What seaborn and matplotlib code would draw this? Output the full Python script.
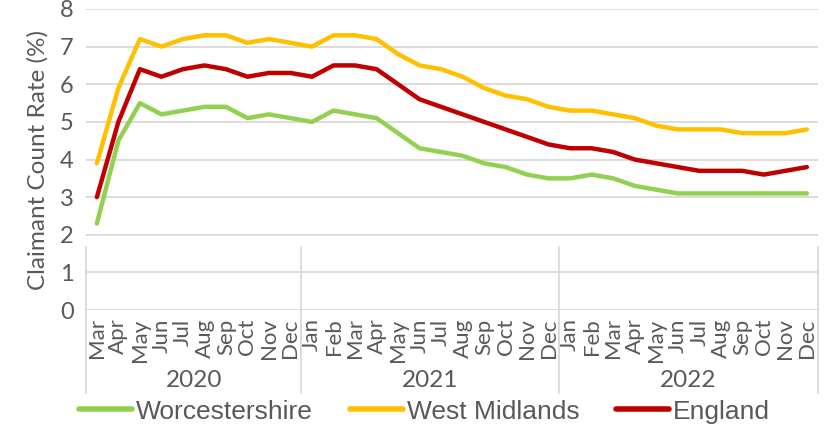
import numpy as np
import pandas as pd
import seaborn as sns
import matplotlib.pyplot as plt
from matplotlib.transforms import blended_transform_factory

months = ["Mar", "Apr", "May", "Jun", "Jul", "Aug", "Sep", "Oct", "Nov", "Dec",
          "Jan", "Feb", "Mar", "Apr", "May", "Jun", "Jul", "Aug", "Sep", "Oct", "Nov", "Dec",
          "Jan", "Feb", "Mar", "Apr", "May", "Jun", "Jul", "Aug", "Sep", "Oct", "Nov", "Dec"]
years = ["2020"] * 10 + ["2021"] * 12 + ["2022"] * 12

worcestershire = [2.3, 4.5, 5.5, 5.2, 5.3, 5.4, 5.4, 5.1, 5.2, 5.1,
                  5.0, 5.3, 5.2, 5.1, 4.7, 4.3, 4.2, 4.1, 3.9, 3.8, 3.6, 3.5,
                  3.5, 3.6, 3.5, 3.3, 3.2, 3.1, 3.1, 3.1, 3.1, 3.1, 3.1, 3.1]
west_midlands = [3.9, 5.9, 7.2, 7.0, 7.2, 7.3, 7.3, 7.1, 7.2, 7.1,
                 7.0, 7.3, 7.3, 7.2, 6.8, 6.5, 6.4, 6.2, 5.9, 5.7, 5.6, 5.4,
                 5.3, 5.3, 5.2, 5.1, 4.9, 4.8, 4.8, 4.8, 4.7, 4.7, 4.7, 4.8]
england = [3.0, 5.0, 6.4, 6.2, 6.4, 6.5, 6.4, 6.2, 6.3, 6.3,
           6.2, 6.5, 6.5, 6.4, 6.0, 5.6, 5.4, 5.2, 5.0, 4.8, 4.6, 4.4,
           4.3, 4.3, 4.2, 4.0, 3.9, 3.8, 3.7, 3.7, 3.7, 3.6, 3.7, 3.8]

series_names = ["Worcestershire", "West Midlands", "England"]
colors = {"Worcestershire": "#92D050", "West Midlands": "#FFC000", "England": "#C00000"}

idx = np.arange(len(months))
df = pd.concat([
    pd.DataFrame({"idx": idx, "rate": vals, "series": name})
    for name, vals in zip(series_names, [worcestershire, west_midlands, england])
])

sns.set_theme(style="white")
plt.rcParams['font.family'] = ['Lato', 'DejaVu Sans']
txt = "#595959"

fig = plt.figure(figsize=(8.36, 4.26), dpi=100)
ax = fig.add_axes([0.103, 0.272, 0.875, 0.707])

sns.lineplot(data=df, x="idx", y="rate", hue="series", hue_order=series_names,
             palette=colors, lw=3.2, ax=ax, legend=True)
for ln in ax.get_lines():
    ln.set_solid_capstyle("round")
    ln.set_solid_joinstyle("round")

ax.set_xlim(-0.5, len(months) - 0.5)
ax.set_ylim(0, 8)
ax.set_yticks(range(0, 9))
ax.yaxis.grid(True, color="#D9D9D9", lw=1.3)
ax.set_axisbelow(True)
for s in ax.spines.values():
    s.set_visible(False)

ax.set_xticks(idx)
ax.set_xticklabels(months, rotation=90, fontsize=16, color=txt, va="top")
ax.tick_params(axis="x", length=0, pad=6)
ax.tick_params(axis="y", length=0, pad=9, labelsize=17, labelcolor=txt)
ax.set_xlabel("")
ax.set_ylabel("Claimant Count Rate (%)", fontsize=17.5, color=txt, labelpad=8)

trans = blended_transform_factory(ax.transData, ax.transAxes)
bounds = [-0.5]
for i in range(1, len(years)):
    if years[i] != years[i - 1]:
        bounds.append(i - 0.5)
bounds.append(len(years) - 0.5)
for b in bounds:
    ax.plot([b, b], [0.21, -0.275], transform=trans, color="#D9D9D9", lw=1.3,
            clip_on=False, zorder=0)
for yname in dict.fromkeys(years):
    pos = [i for i, y in enumerate(years) if y == yname]
    ax.text(np.mean(pos), -0.235, yname, transform=trans, ha="center", va="center",
            fontsize=17.5, color=txt)

handles, labels = ax.get_legend_handles_labels()
ax.get_legend().remove()
for h in handles:
    h.set_linewidth(4)
    h.set_solid_capstyle("round")
leg = fig.legend(handles, labels, loc="center", bbox_to_anchor=(0.508, 0.034), ncol=3,
                 frameon=False, handlelength=2.0, handletextpad=0.15, columnspacing=1.4,
                 prop={"family": "Liberation Sans", "size": 19})
for t in leg.get_texts():
    t.set_color(txt)

fig.savefig("out.png", dpi=100)
